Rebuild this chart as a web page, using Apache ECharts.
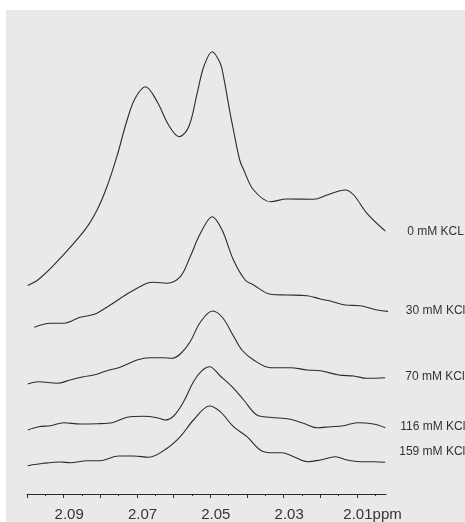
<!DOCTYPE html>
<html>
<head>
<meta charset="utf-8">
<script src="https://cdn.jsdelivr.net/npm/echarts@6/dist/echarts.min.js"></script>
<style>
  html, body { margin: 0; padding: 0; background: #ffffff; width: 465px; height: 522px; overflow: hidden; }
  #panel { position: absolute; left: 6px; top: 10px; width: 459px; height: 512px; background: #e9e9e9; }
  #chart { width: 459px; height: 512px; }
</style>
</head>
<body>
<div id="panel"><div id="chart"></div></div>
<script>
// Stacked 1H NMR spectra (chemical shift in ppm, intensity in arbitrary stacked units)
const seriesNames = ['0 mM KCL', '30 mM KCl', '70 mM KCl', '116 mM KCl', '159 mM KCl'];

const ppm0 = [2.0998, 2.0968, 2.0918, 2.0841, 2.0809, 2.0782, 2.0755, 2.0727, 2.0705, 2.0677, 2.0645, 2.0614, 2.0585, 2.0559, 2.0536, 2.0518, 2.0495, 2.0473, 2.0464, 2.0446, 2.0437, 2.0420, 2.0409, 2.0382, 2.0336, 2.0291, 2.0218, 2.0182, 2.0132, 2.0109, 2.0073, 2.0023];
const int0 = [208.5, 214.7, 232.3, 264.7, 284, 307.3, 337.3, 374, 395.7, 407.3, 392.3, 369, 357.3, 367.3, 400.7, 427.3, 442.3, 430.7, 417.3, 380.7, 364, 334, 324, 304, 292.3, 295, 294.7, 299, 304, 299, 280.7, 263];

const ppm30 = [2.0980, 2.0936, 2.0900, 2.0855, 2.0814, 2.0773, 2.0727, 2.0673, 2.0655, 2.0618, 2.0582, 2.0555, 2.0527, 2.0495, 2.0468, 2.0437, 2.0405, 2.0382, 2.0336, 2.0291, 2.0236, 2.0200, 2.0173, 2.0132, 2.0091, 2.0045, 2.0005];
const int30 = [166.7, 170.7, 170.7, 176.7, 180, 189, 200, 210.7, 211.7, 210.7, 217.3, 237.3, 260.7, 277.3, 264, 234, 214, 209, 199.7, 199, 198.3, 195, 193, 189, 188.3, 184, 182.3];

const ppm70 = [2.0998, 2.0968, 2.0918, 2.0882, 2.0846, 2.0818, 2.0782, 2.0746, 2.0700, 2.0664, 2.0627, 2.0605, 2.0582, 2.0555, 2.0527, 2.0494, 2.0467, 2.0437, 2.0414, 2.0382, 2.0336, 2.0282, 2.0236, 2.0200, 2.0150, 2.0109, 2.0073, 2.0023];
const int70 = [110, 112.3, 110.7, 114, 117.3, 119, 123.3, 126.7, 134, 136.3, 136.3, 135.7, 140, 152.3, 172, 183, 176.5, 158, 144, 134, 126.3, 126.3, 124, 123.3, 119, 118, 115.7, 116.3];

const ppm116 = [2.0998, 2.0968, 2.0936, 2.0900, 2.0855, 2.0809, 2.0768, 2.0727, 2.0682, 2.0645, 2.0623, 2.0600, 2.0573, 2.0546, 2.0523, 2.0502, 2.0473, 2.0441, 2.0409, 2.0373, 2.0336, 2.0282, 2.0246, 2.0209, 2.0173, 2.0137, 2.0100, 2.0055, 2.0023];
const int116 = [64, 67.3, 68.3, 71.3, 70, 70.3, 71.3, 76.7, 77.7, 76.3, 74, 78, 92.3, 112.3, 123.3, 127.3, 118, 107.3, 94, 79, 76.7, 74.7, 70.7, 66.3, 67.3, 68.3, 71.3, 70, 66.3];

const ppm159 = [2.0998, 2.0955, 2.0909, 2.0882, 2.0836, 2.0800, 2.0750, 2.0709, 2.0668, 2.0618, 2.0582, 2.0546, 2.0502, 2.0473, 2.0437, 2.0400, 2.0364, 2.0336, 2.0305, 2.0273, 2.0236, 2.0200, 2.0159, 2.0127, 2.0091, 2.0055, 2.0023];
const int159 = [28.3, 30.7, 32, 31.3, 33.3, 33.3, 38, 38, 36.7, 45.7, 57.3, 74, 88, 82.3, 67.3, 57.3, 44, 41.3, 41.3, 37.3, 32.3, 34, 37.3, 34, 32.3, 32.3, 31.7];

// Axis ticks: minor every 0.005 ppm, major every 0.01 ppm, labels every 0.02 ppm
const minorTicks = [2.100, 2.095, 2.090, 2.085, 2.080, 2.075, 2.070, 2.065, 2.060, 2.055, 2.050, 2.045, 2.040, 2.035, 2.030, 2.025, 2.020, 2.015, 2.010, 2.005];
const majorTicks = [2.10, 2.09, 2.08, 2.07, 2.06, 2.05, 2.04, 2.03, 2.02, 2.01];
const tickLabels = [2.09, 2.07, 2.05, 2.03, 2.01];

const ppmSets = [ppm0, ppm30, ppm70, ppm116, ppm159];
const intSets = [int0, int30, int70, int116, int159];
const labelOffsets = [[22, 1], [14, -1], [20, -1], [15, -1], [14, -11]];

const FONT = 'Liberation Sans, Arial, sans-serif';
const TEXT = '#333333';

const chart = echarts.init(document.getElementById('chart'), null, { renderer: 'canvas' });

const axisRange = { min: 2.0021, max: 2.10 };

const series = seriesNames.map((name, i) => ({
  name: name,
  type: 'line',
  xAxisIndex: 0,
  data: ppmSets[i].map((p, k) => [p, intSets[i][k]]),
  showSymbol: false,
  smooth: 0.35,
  clip: false,
  lineStyle: { color: '#2b2b2b', width: 1.1 },
  endLabel: {
    show: true,
    formatter: '{a}',
    color: TEXT,
    fontFamily: FONT,
    fontSize: 12,
    offset: labelOffsets[i],
    distance: 0,
    align: 'left'
  },
  emphasis: { disabled: true }
}));

chart.setOption({
  animation: false,
  backgroundColor: 'transparent',
  grid: { left: 21, right: 79, top: 0, bottom: 28, containLabel: false },
  xAxis: [
    {
      type: 'value',
      inverse: true,
      min: axisRange.min,
      max: axisRange.max,
      position: 'bottom',
      splitLine: { show: false },
      axisLine: { show: true, lineStyle: { color: '#2b2b2b', width: 1 } },
      axisTick: { show: true, customValues: minorTicks, length: 2, inside: false, lineStyle: { color: '#2b2b2b', width: 1 } },
      axisLabel: {
        show: true,
        customValues: tickLabels,
        margin: 13,
        color: TEXT,
        fontFamily: FONT,
        fontSize: 15,
        formatter: v => {
          const t = v.toFixed(2);
          return v < 2.015 ? '{u|' + t + 'ppm}' : '{n|' + t + '}';
        },
        rich: {
          n: { fontSize: 15, color: TEXT, fontFamily: FONT, padding: [0, 0, 0, 11] },
          u: { fontSize: 15, color: TEXT, fontFamily: FONT, padding: [0, 0, 0, 31] }
        }
      }
    },
    {
      type: 'value',
      inverse: true,
      min: axisRange.min,
      max: axisRange.max,
      position: 'bottom',
      splitLine: { show: false },
      axisLine: { show: false },
      axisTick: { show: true, customValues: majorTicks, length: 4, lineStyle: { color: '#2b2b2b', width: 1 } },
      axisLabel: { show: false }
    }
  ],
  yAxis: {
    type: 'value',
    min: 0,
    max: 484,
    show: false,
    splitLine: { show: false }
  },
  series: series
});
</script>
</body>
</html>
